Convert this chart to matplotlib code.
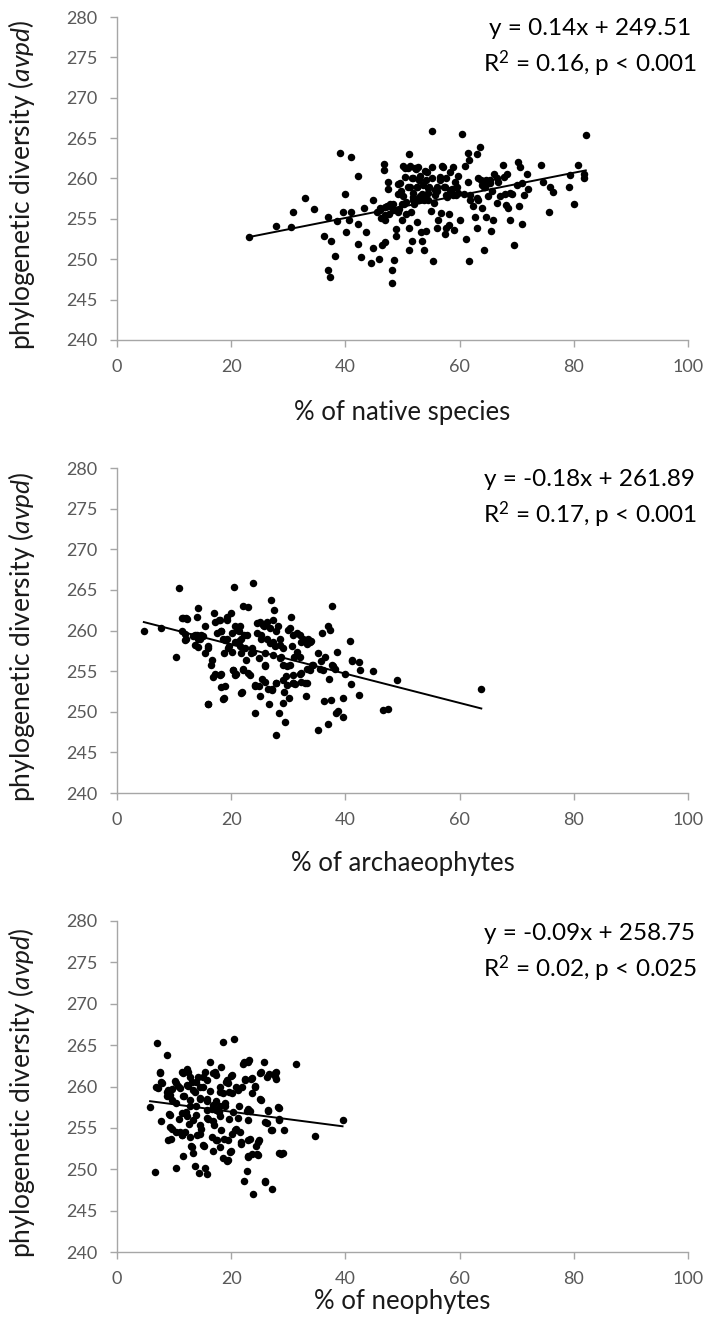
import matplotlib
matplotlib.use("Agg")
import matplotlib.pyplot as plt
import numpy as np

plt.rcParams['font.family'] = ['Lato', 'DejaVu Sans']
plt.rcParams['mathtext.fontset'] = 'custom'
plt.rcParams['mathtext.rm'] = 'Lato'
plt.rcParams['mathtext.it'] = 'Lato:italic'

# % of native species vs avpd
native_pct = [
    23.1, 27.9, 30.5, 30.9, 32.9, 34.5, 36.3, 37.5, 36.9, 37.3, 36.9, 38.1, 38.6, 39.1, 39.5,
    39.9, 40.1, 41.0, 40.9, 40.7, 42.2, 42.2, 42.2, 42.8, 43.2, 43.6, 44.4, 44.8, 44.9, 45.8,
    46.0, 46.2, 46.4, 46.8, 46.8, 47.0, 47.0, 47.2, 47.4, 47.5, 47.7, 48.2, 48.1, 48.3, 48.6,
    48.9, 48.9, 49.3, 49.3, 49.4, 49.7, 50.0, 50.1, 50.3, 50.5, 50.7, 50.9, 51.1, 51.1, 51.2,
    51.3, 51.5, 51.7, 51.9, 51.9, 52.1, 52.3, 52.5, 52.6, 52.9, 53.1, 53.3, 53.4, 53.5, 53.7,
    53.8, 54.1, 54.1, 54.3, 54.5, 54.6, 55.0, 55.1, 55.2, 55.3, 55.6, 56.0, 56.0, 56.2, 56.6,
    56.8, 57.1, 57.2, 57.5, 57.6, 57.8, 58.1, 58.1, 58.4, 58.6, 58.8, 59.0, 59.2, 59.4, 59.8,
    60.0, 60.4, 60.8, 61.0, 61.2, 61.4, 61.5, 61.6, 61.6, 61.9, 62.4, 62.7, 63.0, 63.1, 63.3,
    63.5, 63.7, 63.9, 64.2, 64.3, 64.6, 64.7, 64.9, 65.3, 65.5, 65.7, 65.9, 66.1, 66.5, 66.7,
    67.6, 67.9, 68.3, 68.4, 68.8, 69.1, 69.5, 70.2, 70.4, 70.6, 70.9, 71.0, 71.3, 71.8, 72.0,
    74.2, 74.6, 75.6, 75.9, 76.4, 79.1, 79.3, 80.1, 80.7, 81.8, 82.1, 81.7,
    50.4, 51.3, 52.2, 52.8, 51.6, 52.9, 53.9, 56.9, 57.7, 56.6, 55.1, 51.0, 52.5, 53.6, 54.5,
    55.7, 56.0, 57.4, 58.3, 59.5, 51.9, 53.1, 53.9, 54.5, 55.7, 57.7, 58.9, 59.8, 49.6, 50.1,
    49.9, 50.7, 51.9, 47.8, 46.9, 46.1, 45.5, 48.4, 49.3, 46.9, 63.3, 64.2, 65.3, 63.9, 64.4,
    66.5, 67.7, 61.8, 63.0, 65.0, 67.1, 68.2, 68.8, 70.0,
]
native_pd = [
    252.8, 254.1, 254.0, 255.9, 257.6, 256.2, 252.9, 252.3, 248.7, 247.8, 255.2, 250.4, 254.7, 263.1, 255.9,
    258.1, 253.4, 262.7, 255.9, 254.9, 260.3, 254.4, 251.9, 250.3, 256.3, 253.4, 249.5, 251.4, 257.3, 250.0,
    256.1, 255.1, 251.7, 261.8, 261.0, 252.1, 254.8, 256.6, 258.7, 259.6, 255.6, 248.7, 247.1, 256.9, 249.9,
    252.9, 253.7, 258.1, 259.3, 256.2, 258.4, 254.8, 261.5, 256.9, 260.2, 255.6, 261.3, 263.0, 253.9, 251.2,
    258.9, 255.9, 252.3, 260.0, 257.7, 256.9, 261.2, 254.6, 258.9, 257.3, 260.3, 253.4, 258.1, 252.2, 251.2,
    257.3, 259.8, 253.5, 260.8, 258.2, 258.9, 256.0, 265.9, 261.4, 249.8, 257.0, 258.5, 253.9, 254.8, 259.8,
    255.7, 261.4, 258.9, 253.1, 253.9, 257.7, 255.6, 254.3, 260.8, 258.7, 261.4, 253.6, 259.6, 257.9, 260.3,
    254.8, 265.5, 258.1, 261.6, 252.5, 259.6, 263.1, 262.3, 249.8, 257.3, 256.6, 255.2, 263.0, 253.9, 257.3,
    263.9, 259.8, 256.4, 258.9, 251.1, 259.8, 255.2, 259.4, 259.8, 253.5, 258.5, 254.8, 260.6, 257.0, 259.6,
    261.7, 258.1, 260.6, 256.4, 254.8, 258.1, 251.7, 262.1, 256.6, 261.4, 259.4, 254.4, 257.9, 260.6, 258.7,
    261.7, 259.6, 255.9, 258.9, 258.3, 258.9, 260.4, 256.9, 261.7, 260.1, 265.4, 260.6,
    261.3, 261.5, 261.3, 261.4, 260.0, 259.8, 260.9, 261.5, 260.0, 260.2, 260.0, 259.0, 259.0, 259.2, 258.8,
    258.6, 259.0, 259.0, 258.6, 259.0, 258.2, 257.8, 258.0, 257.3, 258.0, 258.0, 258.0, 258.2, 259.4, 257.8,
    256.9, 257.1, 257.3, 256.9, 256.5, 256.3, 255.9, 256.1, 255.9, 255.5, 260.0, 259.6, 259.4, 259.2, 259.0,
    260.0, 260.2, 258.0, 257.6, 257.8, 257.8, 256.7, 258.2, 259.2,
]

# % of archaeophytes vs avpd
archaeo_pct = [
    4.7, 7.7, 10.3, 10.9, 11.4, 12.0, 11.4, 12.0, 13.4, 14.0, 14.2, 14.0, 14.6, 15.0, 15.4,
    15.4, 15.9, 15.9, 16.4, 16.6, 17.0, 17.2, 17.5, 17.8, 18.2, 18.3, 18.5, 18.7, 18.8, 19.0,
    19.2, 19.3, 19.6, 19.9, 20.1, 20.4, 20.5, 20.7, 20.8, 21.1, 21.3, 21.5, 21.8, 21.9, 22.1,
    22.1, 22.3, 22.6, 22.9, 23.0, 23.4, 23.7, 23.8, 24.1, 24.2, 24.5, 24.6, 24.9, 25.0, 25.3,
    25.4, 25.7, 25.9, 26.0, 26.3, 26.5, 26.7, 26.8, 27.0, 27.2, 27.5, 27.6, 27.8, 27.9, 28.2,
    28.4, 28.6, 28.8, 29.0, 29.2, 29.4, 29.6, 29.8, 30.0, 30.2, 30.4, 30.6, 30.8, 31.0, 31.2,
    31.6, 32.0, 32.2, 32.5, 32.9, 33.1, 33.4, 33.8, 34.0, 34.3, 35.2, 35.2, 35.7, 35.9, 36.2,
    36.5, 36.9, 37.0, 37.2, 37.3, 37.5, 37.7, 37.9, 38.3, 38.5, 38.7, 39.5, 39.6, 39.9, 40.8,
    40.9, 41.1, 41.2, 42.4, 42.4, 42.6, 44.9, 46.6, 47.4, 49.0, 63.8,
    22.7, 25.0, 25.6, 26.8, 27.4, 27.9, 26.2, 25.3, 27.4, 28.5, 29.1, 30.3, 30.9, 32.1, 32.3,
    31.5, 33.2, 33.8, 21.8, 22.4, 23.9, 24.8, 25.9, 27.4, 29.1, 30.3, 28.5, 30.9, 32.1, 33.2,
    34.1, 35.6, 36.1, 37.6, 38.2, 22.1, 23.3, 24.2, 25.9, 27.1, 27.9, 29.1, 29.7, 30.9, 32.3,
    33.2, 11.6, 12.2, 11.9, 11.9, 13.7, 14.2, 14.5, 14.8, 13.7, 14.2, 16.0, 16.9, 18.0, 18.3,
    18.6, 16.0, 17.2, 18.0, 19.2, 18.3, 18.9, 19.5, 20.1, 20.7, 21.3, 21.5, 20.4, 20.7, 21.8,
]
archaeo_pd = [
    259.9, 260.3, 256.8, 265.2, 261.6, 261.5, 259.9, 258.9, 259.3, 259.4, 262.8, 261.7, 258.9, 259.3, 260.5,
    257.2, 258.1, 251.0, 255.8, 256.4, 262.1, 254.6, 259.7, 261.3, 254.6, 259.9, 258.9, 257.2, 251.7, 253.2,
    261.7, 258.9, 258.1, 262.2, 259.7, 255.2, 265.4, 260.5, 254.6, 260.1, 258.7, 258.1, 257.2, 252.4, 255.2,
    263.0, 259.5, 256.4, 262.9, 254.8, 257.2, 257.9, 265.8, 253.2, 249.8, 260.9, 259.7, 253.2, 251.9, 258.9,
    254.0, 260.5, 255.6, 257.2, 261.1, 252.8, 251.0, 258.5, 263.7, 252.8, 262.5, 258.1, 247.1, 253.6, 260.5,
    249.9, 258.9, 256.8, 251.1, 252.4, 248.7, 254.4, 255.6, 260.1, 251.7, 261.7, 258.1, 253.6, 256.8, 253.4,
    259.7, 256.8, 254.8, 258.9, 253.6, 251.9, 258.9, 255.2, 258.7, 255.8, 247.7, 257.2, 256.2, 259.7, 251.3,
    256.8, 260.5, 248.5, 254.0, 260.1, 251.5, 263.0, 255.6, 249.9, 257.4, 250.1, 249.3, 251.7, 254.6, 258.7,
    253.4, 256.2, 256.4, 256.1, 252.1, 255.2, 255.0, 250.2, 250.3, 253.9, 252.8,
    259.4, 261.1, 260.7, 260.3, 261.3, 259.9, 259.0, 259.4, 258.6, 258.2, 257.8, 260.3, 259.4, 259.4, 258.6,
    257.4, 258.4, 258.6, 259.0, 257.8, 257.4, 256.6, 255.8, 257.0, 255.8, 255.8, 256.6, 254.5, 254.7, 255.3,
    255.8, 255.3, 255.1, 255.8, 255.3, 255.3, 254.5, 253.3, 253.7, 252.7, 253.5, 253.9, 253.3, 253.5, 253.7,
    253.5, 261.5, 261.4, 259.6, 258.8, 259.4, 259.0, 259.2, 259.5, 258.2, 258.0, 257.8, 254.3, 254.5, 253.1,
    251.6, 250.9, 261.1, 261.3, 261.3, 259.9, 258.8, 257.8, 257.4, 258.6, 259.9, 260.5, 255.1, 254.5, 252.3,
]

# % of neophytes vs avpd
neo_pct = [
    5.8, 6.6, 7.0, 6.9, 7.5, 7.7, 7.7, 8.8, 8.7, 8.8, 9.1, 9.2, 9.5, 9.7, 10.1,
    10.3, 10.4, 10.7, 10.9, 11.0, 11.3, 11.4, 11.6, 11.8, 12.0, 12.2, 12.5, 12.6, 12.8, 13.0,
    13.2, 13.4, 13.6, 13.7, 13.9, 14.0, 14.2, 14.4, 14.6, 14.8, 15.0, 15.2, 15.4, 15.5, 15.8,
    15.8, 16.0, 16.3, 16.6, 16.8, 17.0, 17.1, 17.4, 17.5, 17.8, 18.0, 18.2, 18.3, 18.5, 18.6,
    18.8, 19.0, 19.1, 19.3, 19.6, 19.7, 19.9, 20.0, 20.2, 20.4, 20.5, 20.8, 20.9, 21.3, 21.7,
    21.9, 22.3, 22.3, 22.5, 22.7, 22.9, 23.0, 23.1, 23.3, 23.5, 23.7, 23.8, 24.2, 24.3, 24.6,
    24.9, 25.1, 25.3, 25.7, 25.9, 26.0, 26.4, 26.7, 27.0, 27.2, 27.6, 27.8, 27.9, 28.2, 28.3,
    28.4, 29.0, 29.2, 31.3, 34.7, 39.5,
    7.5, 7.8, 7.2, 9.0, 9.3, 9.6, 10.4, 11.0, 11.6, 12.5, 12.8, 12.2, 13.4, 13.9, 14.5,
    15.1, 15.7, 16.3, 16.9, 17.4, 18.0, 18.6, 19.2, 14.5, 15.7, 16.9, 18.0, 18.9, 17.4, 15.7,
    13.9, 12.8, 11.6, 10.4, 11.3, 12.2, 13.4, 14.5, 15.7, 16.9, 18.0, 11.9, 11.3, 12.8, 14.5,
    9.3, 9.6, 9.0, 13.1, 15.1, 16.6, 17.4, 18.0,
    22.1, 23.0, 25.0, 26.2, 27.7, 22.4, 23.6, 24.2, 20.1, 19.5, 21.2, 20.1, 23.6, 25.3, 26.5,
    28.3, 28.3, 26.2, 27.1, 22.7, 23.3, 21.2, 23.0, 20.7, 21.5, 19.5, 21.8, 23.0, 24.7, 19.8,
    19.5, 23.0, 24.7, 28.8, 25.9,
]
neo_pd = [
    257.5, 249.7, 265.2, 259.9, 261.7, 260.5, 255.8, 263.8, 259.3, 258.9, 256.7, 255.1, 253.7, 259.7, 260.7,
    250.2, 254.5, 260.1, 256.1, 254.5, 254.1, 261.7, 251.6, 258.9, 256.9, 262.1, 260.1, 255.5, 257.7, 252.8,
    260.5, 252.0, 259.3, 250.4, 256.5, 254.1, 261.1, 249.6, 258.5, 254.9, 259.9, 252.8, 261.7, 250.2, 249.4,
    258.5, 256.1, 263.0, 257.3, 252.2, 255.3, 261.7, 258.3, 253.5, 256.9, 259.3, 254.7, 262.3, 265.4, 251.4,
    253.7, 257.7, 260.5, 251.0, 256.1, 259.3, 261.3, 252.2, 254.3, 256.9, 265.8, 259.9, 254.9, 257.7, 253.3,
    259.9, 248.6, 263.0, 260.9, 249.8, 257.3, 251.6, 263.2, 253.7, 260.9, 251.8, 247.0, 260.1, 252.8, 251.8,
    253.5, 258.5, 261.7, 263.0, 248.6, 255.7, 257.2, 261.5, 254.7, 247.6, 261.3, 261.7, 260.9, 257.5, 256.1,
    252.0, 252.0, 254.7, 262.7, 254.0, 256.0,
    261.6, 260.4, 259.8, 259.6, 259.0, 258.4, 260.4, 259.8, 261.6, 261.8, 261.2, 260.2, 259.6, 260.6, 260.0,
    261.2, 260.8, 259.4, 261.6, 261.4, 260.0, 259.2, 260.8, 258.6, 258.2, 257.8, 257.6, 258.0, 257.2, 257.2,
    257.6, 258.4, 258.8, 258.0, 256.8, 256.4, 256.0, 255.4, 256.2, 255.8, 256.4, 254.5, 254.1, 253.9, 254.3,
    256.6, 254.9, 253.5, 252.7, 252.9, 253.9, 253.5, 252.7,
    262.7, 263.0, 261.6, 261.2, 261.6, 260.8, 261.0, 260.0, 261.4, 260.4, 259.6, 259.2, 259.2, 258.4, 257.1,
    257.4, 255.9, 255.6, 254.7, 257.1, 257.1, 256.2, 256.0, 254.7, 254.5, 253.5, 253.1, 253.5, 253.3, 252.1,
    251.1, 251.5, 251.7, 251.8, 248.5,
]

panels = [
    (native_pct, native_pd, 0.14, 249.51, "0.16, p < 0.001", "% of native species"),
    (archaeo_pct, archaeo_pd, -0.18, 261.89, "0.17, p < 0.001", "% of archaeophytes"),
    (neo_pct, neo_pd, -0.09, 258.75, "0.02, p < 0.025", "% of neophytes"),
]

# axes boxes in figure fractions [left, bottom, width, height]
boxes = [
    [0.1657, 0.7442, 0.8088, 0.2430],
    [0.1657, 0.4033, 0.8088, 0.2445],
    [0.1657, 0.0579, 0.8088, 0.2491],
]
xlabel_y = [-0.185, -0.178, -0.112]

fig = plt.figure(figsize=(7.06, 13.29), dpi=100)
grey = '#a6a6a6'
tick_col = '#595959'

for (xs, ys, slope, icpt, r2txt, xlab), box, xly in zip(panels, boxes, xlabel_y):
    ax = fig.add_axes(box)
    xs = np.asarray(xs)
    ys = np.asarray(ys)
    ax.plot(xs, ys, 'o', color='black', markersize=5.4, markeredgewidth=0)

    # linear trend over the observed x range
    xl = np.array([xs.min(), xs.max()])
    ax.plot(xl, slope * xl + icpt, color='black', linewidth=1.4)

    ax.set_xlim(0, 100)
    ax.set_ylim(240, 280)
    ax.set_xticks(np.arange(0, 101, 20))
    ax.set_yticks(np.arange(240, 281, 5))
    for side in ('top', 'right'):
        ax.spines[side].set_visible(False)
    for side in ('left', 'bottom'):
        ax.spines[side].set_color(grey)
        ax.spines[side].set_linewidth(1.0)
    ax.tick_params(direction='out', length=5, width=1.0, color=grey,
                   labelcolor=tick_col, labelsize=13, pad=9)

    sign = '+' if icpt >= 0 else '-'
    eq = f"y = {slope:.2f}x {sign} {abs(icpt):.2f}\nR$^2$ = {r2txt}"
    ax.text(0.828, 0.902, eq, transform=ax.transAxes, ha='center', va='center',
            fontsize=17.5, color='black', linespacing=1.4)

    ax.set_xlabel(xlab, fontsize=18.5, color='#1a1a1a')
    ax.xaxis.set_label_coords(0.5, xly)
    ax.set_ylabel(r'phylogenetic diversity ($\mathit{avpd}$)', fontsize=19,
                  color='#1a1a1a')
    ax.yaxis.set_label_coords(-0.14, 0.48)

fig.savefig('out.png', dpi=100)
